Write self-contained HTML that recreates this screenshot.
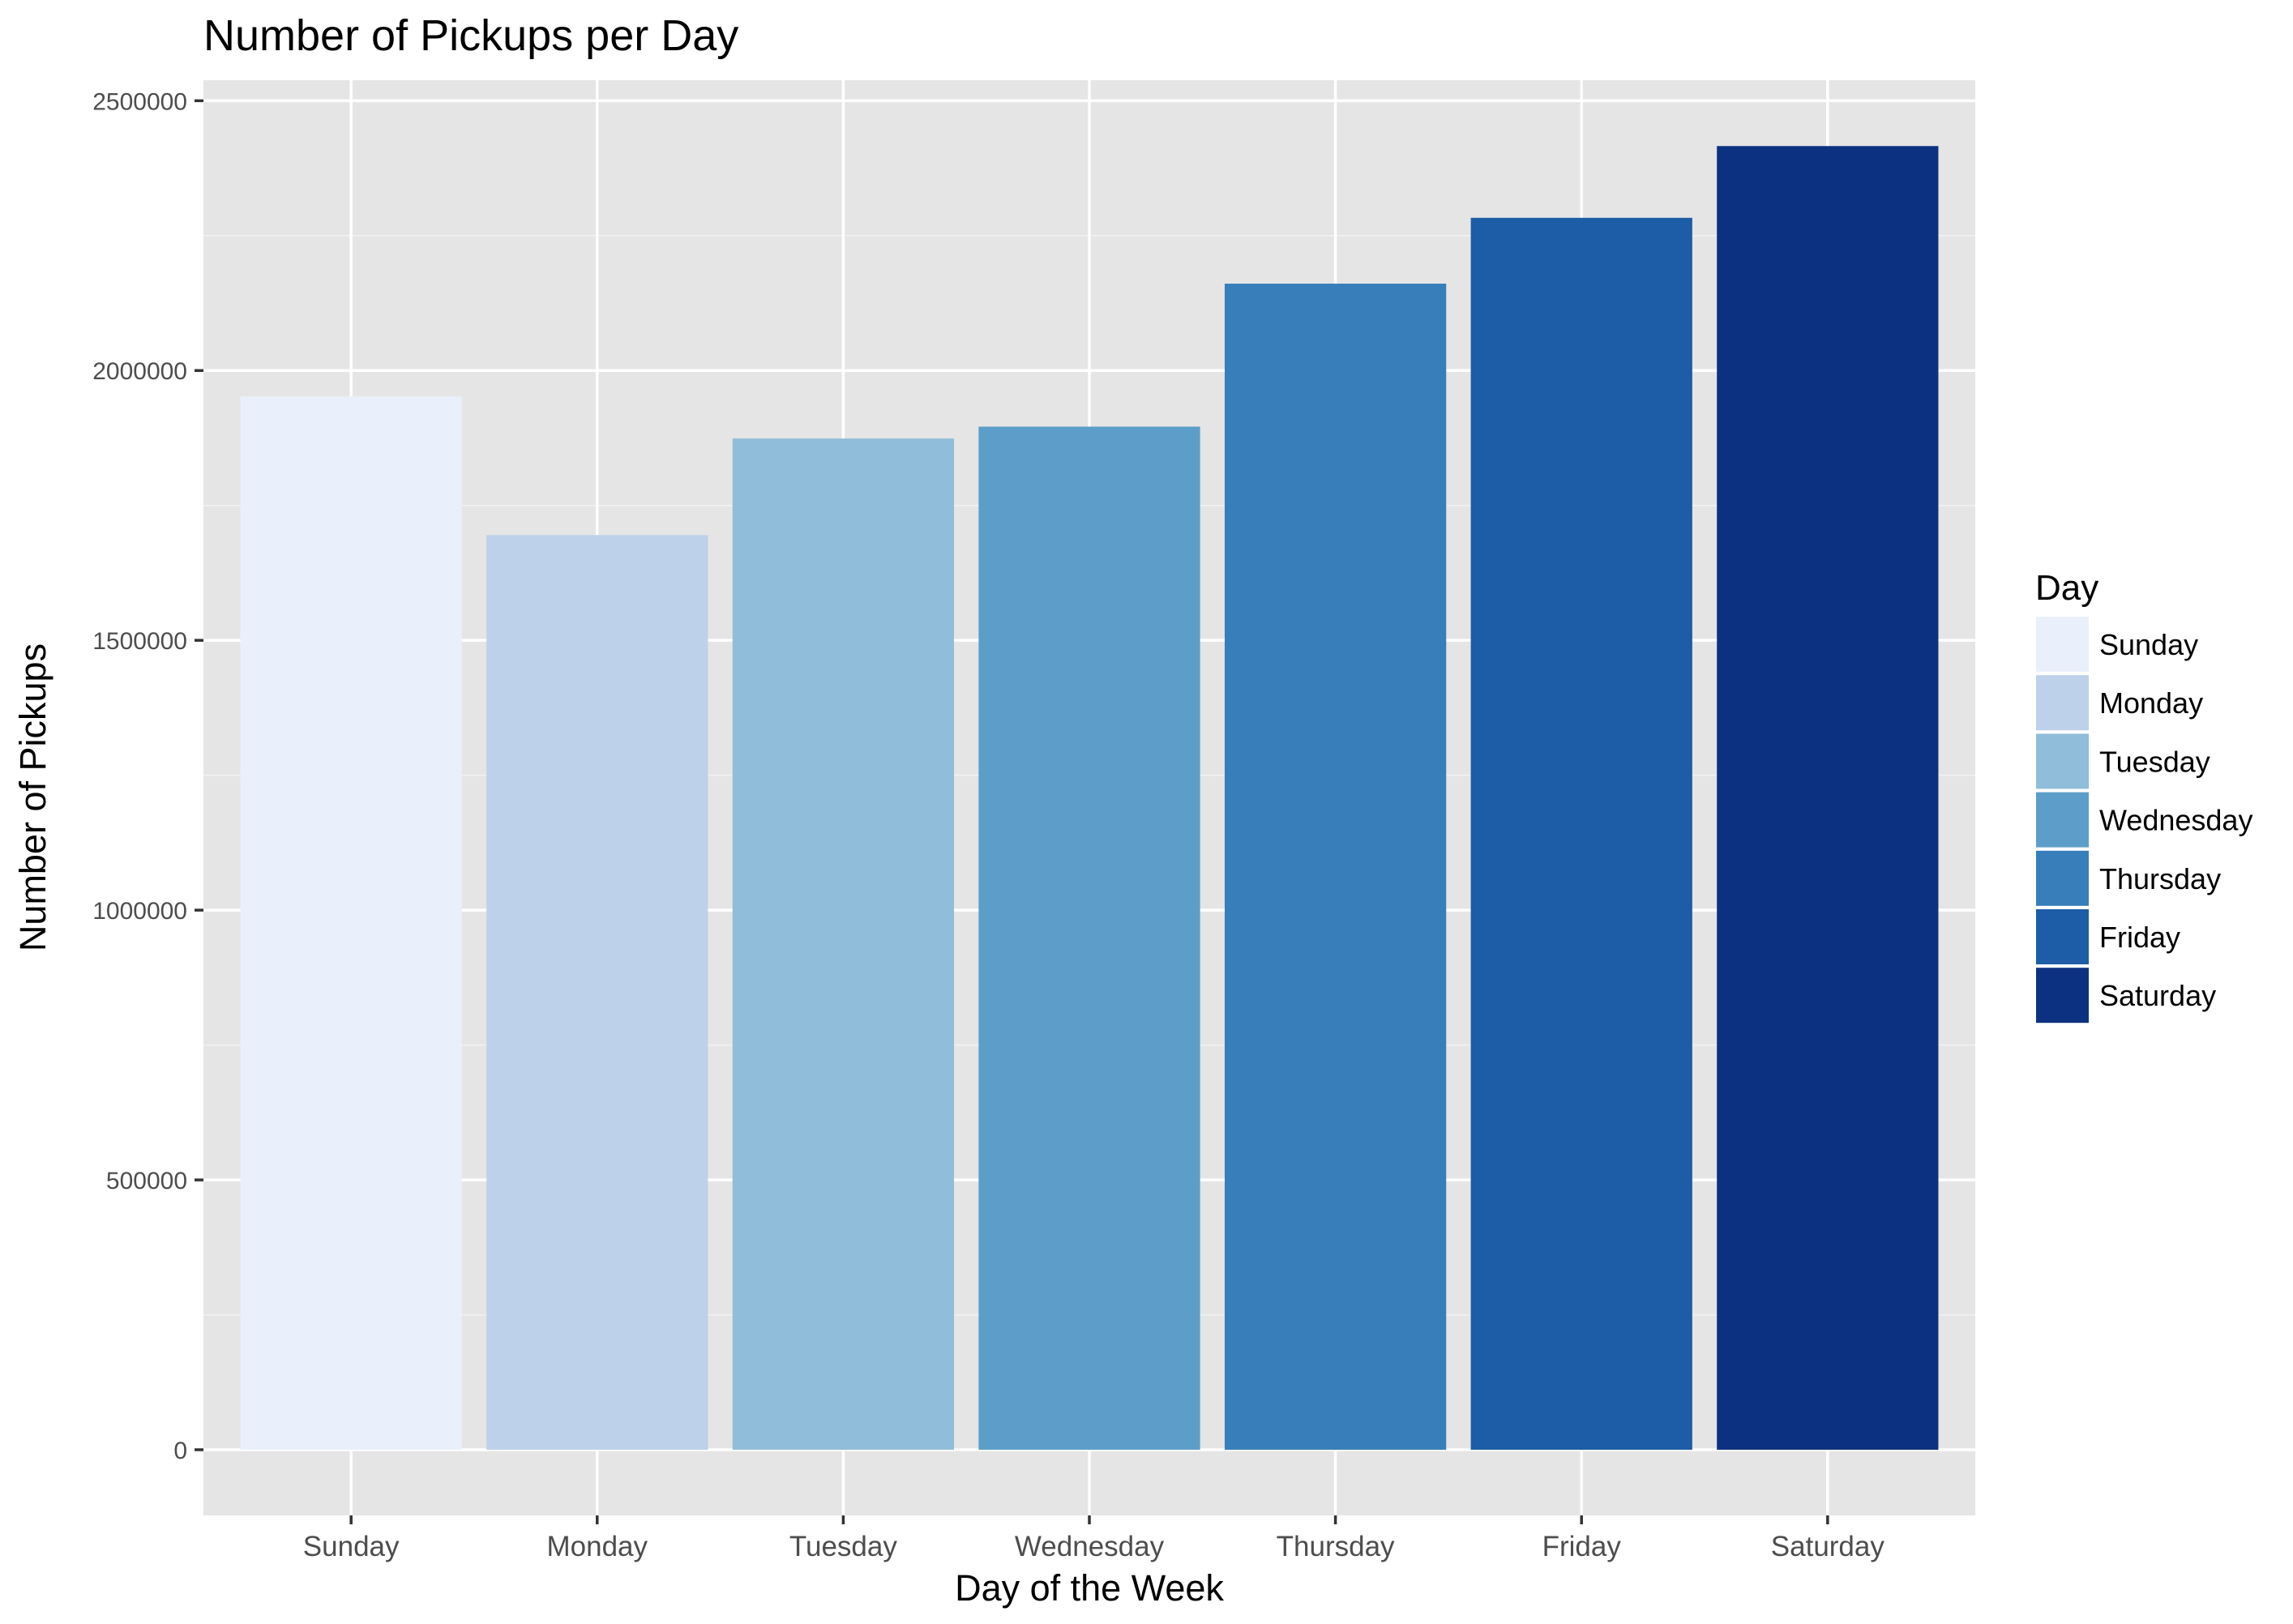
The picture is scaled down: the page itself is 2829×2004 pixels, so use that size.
<!DOCTYPE html>
<html><head><meta charset="utf-8"><style>
html,body{margin:0;padding:0;background:#fff;}
svg{display:block;font-family:"Liberation Sans",Arial,sans-serif;}
</style></head><body>
<svg id="chart" width="2829" height="2004" viewBox="0 0 2829 2004">
<text x="251" y="62" font-size="54" fill="#000">Number of Pickups per Day</text>
<rect x="251" y="99" width="2186" height="1771" fill="#e5e5e5"/>
<g id="grid"></g>
<g id="bars"></g>
<g id="axes"></g>
<text x="1344" y="1975" font-size="45" text-anchor="middle" fill="#000">Day of the Week</text>
<text transform="translate(56,984) rotate(-90)" font-size="45" text-anchor="middle" fill="#000">Number of Pickups</text>
<g id="legend">
<text x="2511" y="740" font-size="44" fill="#000">Day</text>
</g>
</svg>
<script>
const categories = ["Sunday","Monday","Tuesday","Wednesday","Thursday","Friday","Saturday"];
const pickups = [1952000,1695000,1874000,1896000,2161000,2283000,2416000];
const colors = ["#eaf0fb","#bdd1ea","#90bdd9","#5c9ec9","#377ebb","#1d5ca6","#0c3180"];
const yTicks = [0,500000,1000000,1500000,2000000,2500000];
const yTickLabels = ["0","500000","1000000","1500000","2000000","2500000"];

const NS="http://www.w3.org/2000/svg";
const L=251,R=2437,T=99,B=1870;
const yMin=-121700,yMax=2538000;
function y(v){return B-(v-yMin)/(yMax-yMin)*(B-T);}
const step=(R-L)/(categories.length+0.2);
function x(i){return L+(i+0.6)*step;}
function mk(tag,attrs,parent){const e=document.createElementNS(NS,tag);for(const k in attrs)e.setAttribute(k,attrs[k]);parent.appendChild(e);return e;}
const grid=document.getElementById('grid'),bars=document.getElementById('bars'),axes=document.getElementById('axes'),legend=document.getElementById('legend');
for(let i=0;i<yTicks.length-1;i++){
  const mv=(yTicks[i]+yTicks[i+1])/2;
  const g=mk('line',{x1:L,x2:R,y1:y(mv),y2:y(mv),stroke:'#f2f2f2','stroke-width':1.5},grid);
  
  
}
yTicks.forEach((v,i)=>{
  const g=mk('line',{x1:L,x2:R,y1:y(v),y2:y(v),stroke:'#fff','stroke-width':3.5},grid);
  
  
  const t=mk('line',{x1:L-11,x2:L,y1:y(v),y2:y(v),stroke:'#333','stroke-width':3.5},axes);
  
  
  const tx=mk('text',{x:L-20,y:y(v)+11,'font-size':30,'text-anchor':'end',fill:'#4d4d4d'},axes);
  tx.textContent=yTickLabels[i];
  
  
});
categories.forEach((c,i)=>{
  const g=mk('line',{x1:x(i),x2:x(i),y1:T,y2:B,stroke:'#fff','stroke-width':3.5},grid);
  
  
  const w=step*0.9;
  const b=mk('rect',{x:x(i)-w/2,y:y(pickups[i]),width:w,height:y(0)-y(pickups[i]),fill:colors[i]},bars);
  
  
  const t=mk('line',{x1:x(i),x2:x(i),y1:B,y2:B+11,stroke:'#333','stroke-width':3.5},axes);
  
  
  const tx=mk('text',{x:x(i),y:B+50,'font-size':35,'text-anchor':'middle',fill:'#4d4d4d'},axes);
  tx.textContent=c;
  
  
  const k=mk('rect',{x:2511,y:760+i*72.2,width:67,height:70,fill:colors[i],stroke:'#fff','stroke-width':2},legend);
  
  
  const lt=mk('text',{x:2590,y:760+i*72.2+48,'font-size':36,fill:'#000'},legend);
  lt.textContent=c;
  
  
});
</script>
</body></html>
